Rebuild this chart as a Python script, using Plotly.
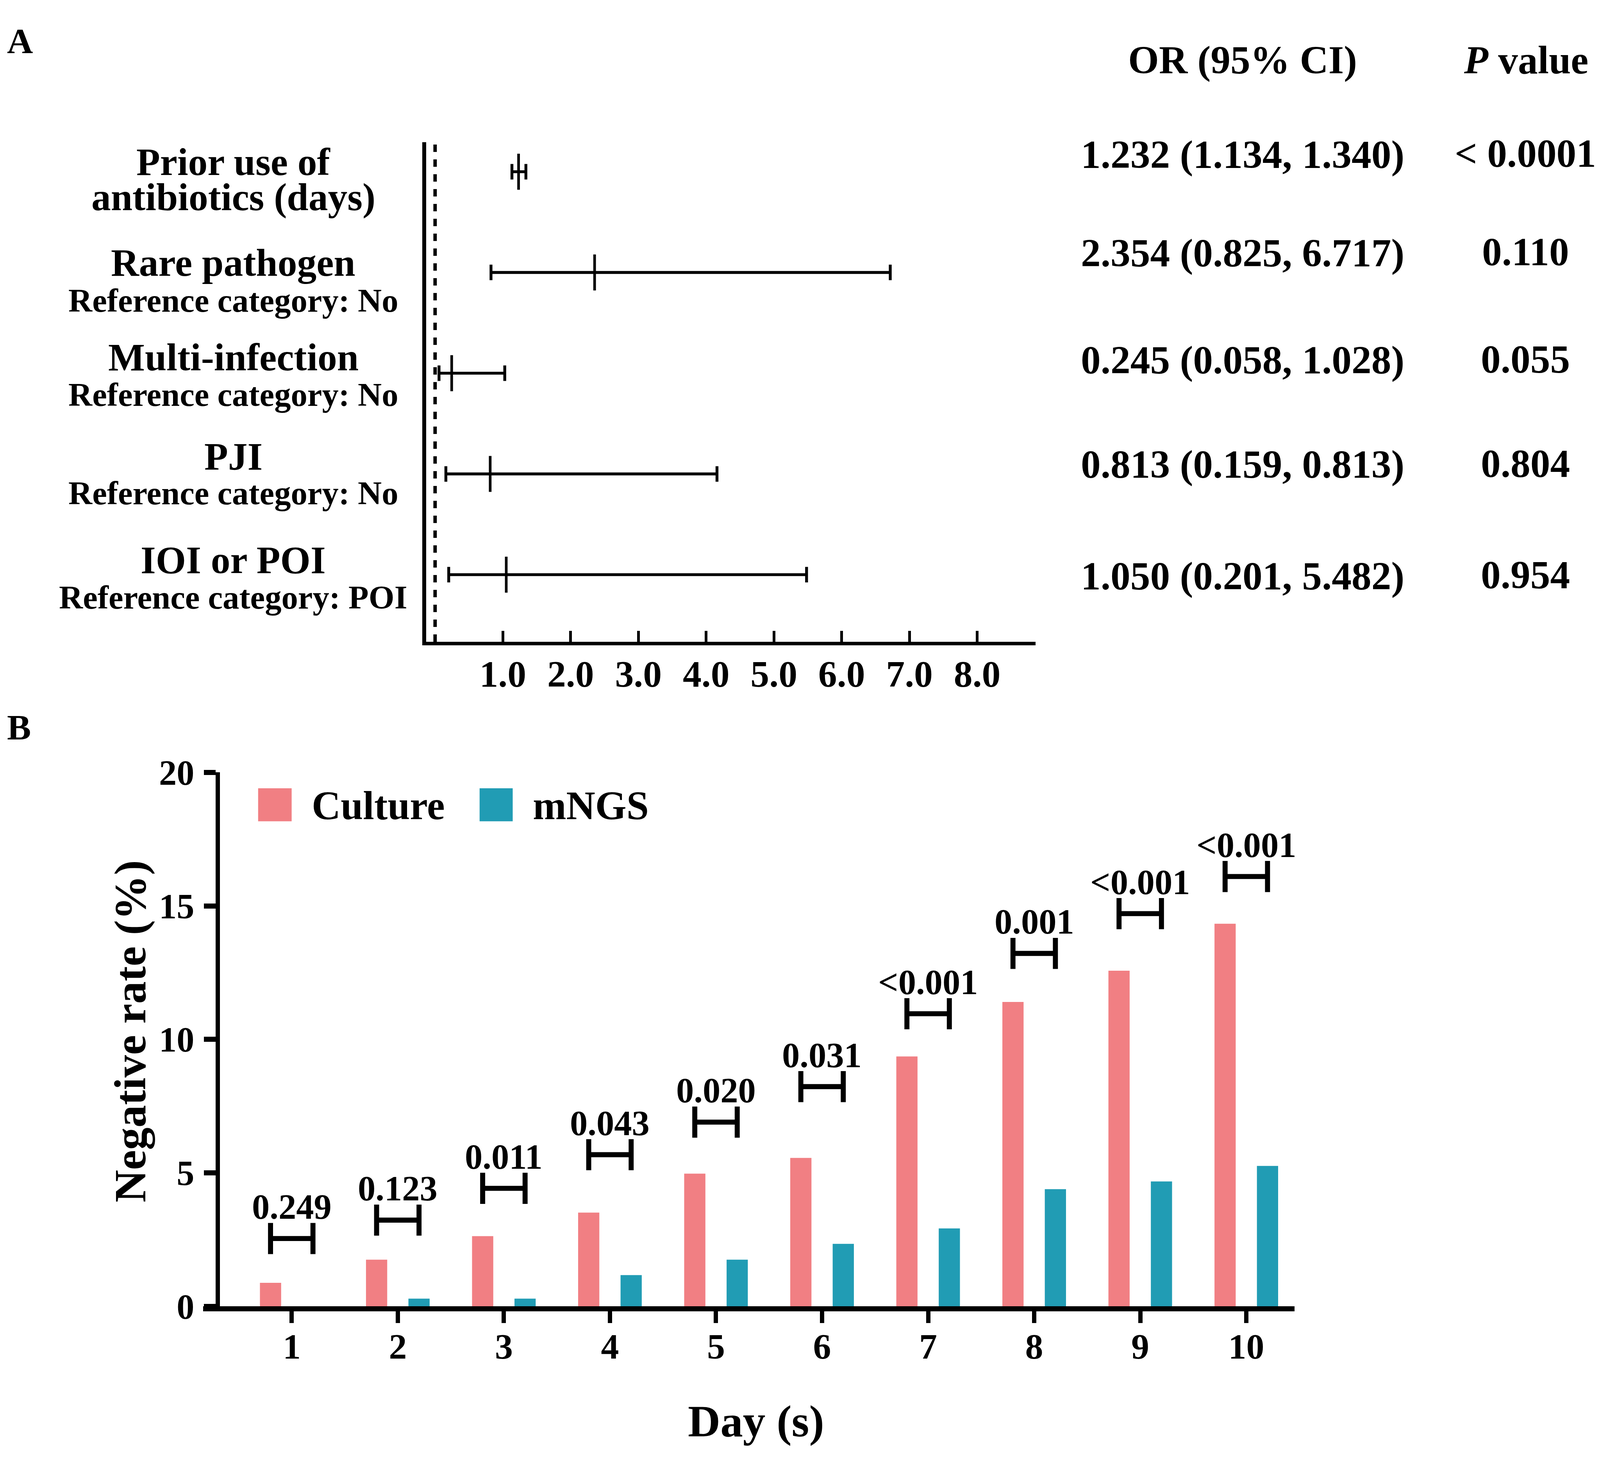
"""Two-panel figure: (A) forest plot of odds ratios, (B) negative rate by day."""

import plotly.graph_objects as go

# ---- Panel A data ---------------------------------------------------------
predictors = ["Prior use of<br>antibiotics (days)", "Rare pathogen", "Multi-infection", "PJI", "IOI or POI"]
ref_notes = ["", "Reference category: No", "Reference category: No", "Reference category: No",
             "Reference category: POI"]
or_est = [1.232, 2.354, 0.245, 0.813, 1.050]
ci_lo = [1.134, 0.825, 0.058, 0.159, 0.201]
ci_hi = [1.340, 6.717, 1.028, 4.16, 5.482]
or_text = ["1.232 (1.134, 1.340)", "2.354 (0.825, 6.717)", "0.245 (0.058, 1.028)",
           "0.813 (0.159, 0.813)", "1.050 (0.201, 5.482)"]
p_text = ["< 0.0001", "0.110", "0.055", "0.804", "0.954"]
or_ticks = [1, 2, 3, 4, 5, 6, 7, 8]
ref_value = 0

# ---- Panel B data ---------------------------------------------------------
days = [1, 2, 3, 4, 5, 6, 7, 8, 9, 10]
culture = [0.88, 1.75, 2.63, 3.51, 4.97, 5.56, 9.36, 11.40, 12.57, 14.33]
mngs = [0, 0.29, 0.29, 1.17, 1.75, 2.34, 2.92, 4.39, 4.68, 5.26]
bracket_y = [2.54, 3.23, 4.42, 5.68, 6.90, 8.23, 10.96, 13.22, 14.71, 16.10]
p_day = ["0.249", "0.123", "0.011", "0.043", "0.020", "0.031", "<0.001", "0.001", "<0.001", "<0.001"]
rate_ticks = [0, 5, 10, 15, 20]

# ---- geometry helpers ----------------------------------------------------
# the browser viewport is only ~4094 css px wide, so the figure is sized to the
# visible area; positions are measured on a 1568 x 1285 copy of the reference
FIG_W, FIG_H = 4078, 3760
REF_W, REF_H = 1568.0, 1285.4
SX = FIG_W / REF_W
SY = FIG_H / REF_H
SF = SX * 1.04  # font / line scale
FAMILY = "Liberation Serif, Times New Roman, serif"
PINK = "#F17F83"
TEAL = "#219CB4"


def fx(d):
    return d / REF_W


def fy(d):
    return 1 - d / REF_H


def font(size, color="black"):
    return dict(family=FAMILY, size=size * SF, color=color, weight="bold")


BARGAP = 0.2
half = (1 - BARGAP) / 4  # offset of each bar centre from the day

fig = go.Figure()

# ---- Panel A traces -------------------------------------------------------
fig.add_trace(go.Scatter(
    x=or_est, y=predictors, xaxis="x", yaxis="y", mode="markers",
    marker=dict(symbol="line-ns-open", size=22.5 * SY, color="black",
                line=dict(color="black", width=2.6 * SX)),
    error_x=dict(type="data", symmetric=False,
                 array=[h - e for h, e in zip(ci_hi, or_est)],
                 arrayminus=[e - lo for e, lo in zip(or_est, ci_lo)],
                 color="black", thickness=2.5 * SY, width=6.8 * SY),
    showlegend=False, hoverinfo="skip",
))

# ---- Panel B traces -------------------------------------------------------
fig.add_trace(go.Bar(x=days, y=culture, name="Culture", marker=dict(color=PINK, line=dict(width=0)),
                     xaxis="x2", yaxis="y2", showlegend=False))
fig.add_trace(go.Bar(x=days, y=mngs, name="mNGS", marker=dict(color=TEAL, line=dict(width=0)),
                     xaxis="x2", yaxis="y2", showlegend=False))
fig.add_trace(go.Scatter(
    x=days, y=bracket_y, xaxis="x2", yaxis="y2", mode="markers",
    marker=dict(size=1, color="rgba(0,0,0,0)"),
    error_x=dict(type="constant", value=half, color="black", thickness=4.4 * SY, width=13.6 * SY),
    showlegend=False, hoverinfo="skip",
))

annotations = []


def label(text, x, y, size, xanchor="center", **kw):
    annotations.append(dict(text=text, x=fx(x), y=fy(y), xref="paper", yref="paper",
                            xanchor=xanchor, yanchor="middle", showarrow=False,
                            font=font(size), **kw))


# panel letters
label("A", 3, 17, 34, xanchor="left")
label("B", 3, 634, 34, xanchor="left")

# row labels for panel A
title_lines = [("Prior use of", 125.5), ("antibiotics (days)", 157.1), ("Rare pathogen", 216.3),
               ("Multi-infection", 301.1), ("PJI", 390.6), ("IOI or POI", 483.5)]
for txt, yy in title_lines:
    label(txt, 226.5, yy, 36.8)
note_y = [250.3, 335.1, 423.4, 517.3]
for txt, yy in zip(ref_notes[1:], note_y):
    label(txt, 226.5, yy, 31.3)

# value columns
label("OR (95% CI)", 1220, 34, 37.5)
label("<i>P</i> value", 1499, 34, 37.5)
value_rows = [119, 207.5, 304, 397.8, 498]
for o, p, yy in zip(or_text, p_text, value_rows):
    label(o, 1220, yy, 37.5)
    label(p, 1498.5, yy - 1, 37.5)

# p-values above brackets in panel B
for d, yb, p in zip(days, bracket_y, p_day):
    annotations.append(dict(text=p, x=d, y=yb, xref="x2", yref="y2", yshift=27.6 * SY,
                            xanchor="center", yanchor="middle", showarrow=False, font=font(33.5)))

# legend of panel B
label("Culture", 303, 704.5, 38, xanchor="left")
label("mNGS", 520.5, 704.5, 38, xanchor="left")

# axis titles of panel B
label("Negative rate (%)", 125, 907.5, 42.6, textangle=-90)
label("Day (s)", 741, 1258, 42.6)

shapes = [
    # dotted reference line of panel A
    dict(type="line", xref="x", yref="y domain", x0=ref_value, x1=ref_value, y0=0, y1=1.01,
         line=dict(color="black", width=3.4 * SX, dash=f"{6.5 * SY:.1f}px,{6.5 * SY:.1f}px")),
    # legend swatches of panel B
    dict(type="rect", xref="paper", yref="paper", x0=fx(251), x1=fx(284), y0=fy(718.6), y1=fy(688.9),
         fillcolor=PINK, line=dict(width=0)),
    dict(type="rect", xref="paper", yref="paper", x0=fx(469), x1=fx(501.6), y0=fy(718.6), y1=fy(688.9),
         fillcolor=TEAL, line=dict(width=0)),
]

# axis ranges from measured pixel positions
a_x0, a_x1, a_unit, a_zero = 416.5, 1016.3, 66.7, 425.2
a_y0, a_y1 = 557.2, 108.0
row_top, row_step = 134.4, 90.6
b_x0, b_x1, b_unit, b_first = 197.0, 1271.0, 104.4, 284.1
b_y0, b_y1 = 1154.8, 674.6

fig.update_layout(
    width=FIG_W, height=FIG_H,
    margin=dict(l=0, r=0, t=0, b=0),
    paper_bgcolor="white", plot_bgcolor="rgba(0,0,0,0)",
    font=font(34),
    barmode="group", bargap=BARGAP, bargroupgap=0.5,
    annotations=annotations, shapes=shapes,
    xaxis=dict(
        domain=[fx(a_x0), fx(a_x1)], anchor="y",
        range=[(a_x0 - a_zero) / a_unit, (a_x1 - a_zero) / a_unit],
        showline=True, linecolor="black", linewidth=3.1 * SY, showgrid=False, zeroline=False,
        ticks="inside", ticklen=9.5 * SY, tickwidth=2.7 * SX, tickcolor="black",
        tickvals=or_ticks, ticktext=[f"{t:.1f}" for t in or_ticks],
        tickfont=font(35.4), ticklabelstandoff=round(-3.0 * SY),
    ),
    yaxis=dict(
        domain=[fy(a_y0), fy(a_y1)], anchor="x",
        type="category", categoryorder="array", categoryarray=predictors[::-1],
        range=[4 - (a_y0 - row_top) / row_step, 4 + (row_top - a_y1) / row_step],
        showline=True, linecolor="black", linewidth=3.7 * SX, showgrid=False, zeroline=False,
        ticks="", showticklabels=False,
    ),
    xaxis2=dict(
        domain=[fx(b_x0), fx(b_x1)], anchor="y2",
        range=[1 - (b_first - b_x0) / b_unit, 1 + (b_x1 - b_first) / b_unit],
        showline=True, linecolor="black", linewidth=4.4 * SY, showgrid=False, zeroline=False,
        ticks="outside", ticklen=10.2 * SY, tickwidth=4.4 * SX, tickcolor="black",
        tickvals=days, tickfont=font(34), ticklabelstandoff=round(-6.5 * SY),
    ),
    yaxis2=dict(
        domain=[fy(b_y0), fy(b_y1)], anchor="free", position=fx(211),
        range=[0, 20],
        showline=True, linecolor="black", linewidth=4.4 * SX, showgrid=False, zeroline=False,
        ticks="outside", ticklen=11.2 * SX, tickwidth=4.4 * SY, tickcolor="black",
        tickvals=rate_ticks, tickfont=font(33.4), ticklabelstandoff=round(2.7 * SX),
    ),
)

fig.write_html("out.html")
